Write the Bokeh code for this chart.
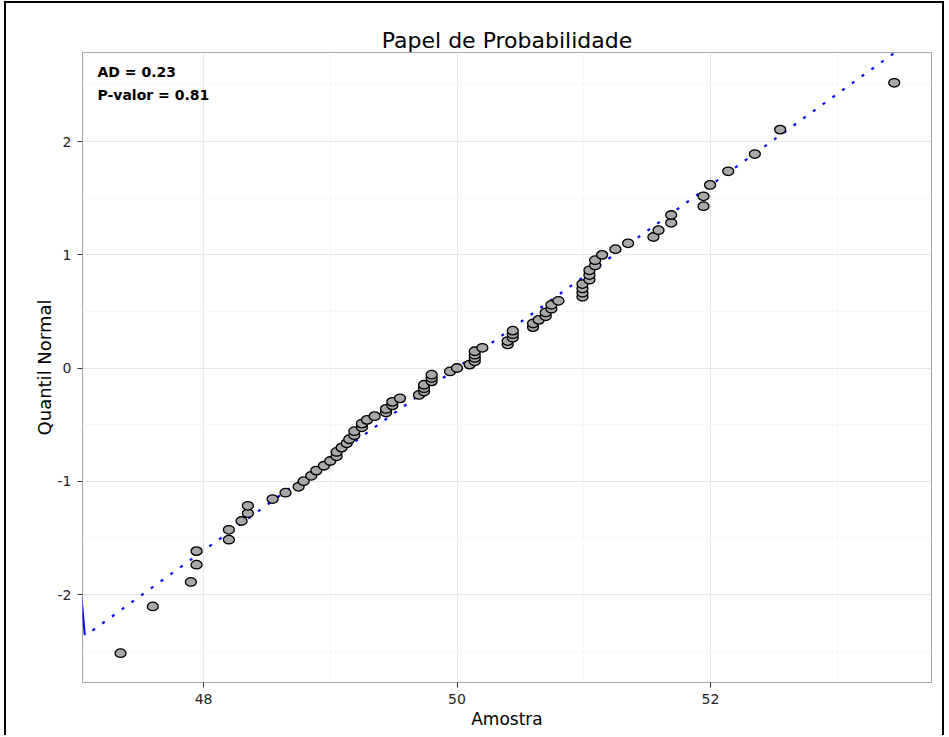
from bokeh.plotting import figure
from bokeh.models import FixedTicker, Label, Range1d
from bokeh.embed import file_html
from bokeh.resources import INLINE

# Sample values (Amostra), sorted
amostra = [
    47.345, 47.60, 47.90, 47.945, 47.945, 48.20, 48.20, 48.30, 48.35, 48.35,
    48.545, 48.647, 48.75, 48.79, 48.85, 48.89, 48.95, 49.00, 49.05, 49.05,
    49.09, 49.13, 49.15, 49.19, 49.19, 49.25, 49.25, 49.29, 49.35, 49.44,
    49.44, 49.49, 49.49, 49.55, 49.70, 49.74, 49.74, 49.74, 49.80, 49.80,
    49.80, 49.945, 50.00, 50.10, 50.14, 50.14, 50.14, 50.14, 50.20, 50.40,
    50.40, 50.44, 50.44, 50.44, 50.60, 50.60, 50.645, 50.70, 50.70, 50.745,
    50.745, 50.80, 50.99, 50.99, 50.99, 50.99, 51.045, 51.045, 51.045, 51.09,
    51.09, 51.145, 51.25, 51.35, 51.55, 51.59, 51.69, 51.69, 51.945, 51.945,
    51.997, 52.14, 52.35, 52.55, 53.45,
]
# Normal quantiles (Quantil Normal)
quantil = [
    -2.518, -2.105, -1.889, -1.737, -1.617, -1.516, -1.429, -1.351, -1.282, -1.217,
    -1.157, -1.101, -1.049, -0.999, -0.952, -0.906, -0.863, -0.821, -0.780, -0.741,
    -0.703, -0.665, -0.629, -0.593, -0.558, -0.524, -0.491, -0.458, -0.425, -0.393,
    -0.361, -0.330, -0.299, -0.268, -0.238, -0.208, -0.178, -0.148, -0.118, -0.089,
    -0.059, -0.030, 0.000, 0.030, 0.059, 0.089, 0.118, 0.148, 0.178, 0.208,
    0.238, 0.268, 0.299, 0.330, 0.361, 0.393, 0.425, 0.458, 0.491, 0.524,
    0.558, 0.593, 0.629, 0.665, 0.703, 0.741, 0.780, 0.821, 0.863, 0.906,
    0.952, 0.999, 1.049, 1.101, 1.157, 1.217, 1.282, 1.351, 1.429, 1.516,
    1.617, 1.737, 1.889, 2.105, 2.518,
]
# Reference (normal) line endpoints
line_x = [47.124, 53.46]
line_y = [-2.318, 2.79]
# Short solid blue segment at the left edge
seg_x = [47.037, 47.063]
seg_y = [-2.026, -2.36]

x_ticks = [48, 50, 52]
x_minor = [47, 49, 51, 53]
y_ticks = [-2, -1, 0, 1, 2]
y_tick_labels = ["-2", "-1", "0", "1", "2"]
y_minor = [-2.5, -1.5, -0.5, 0.5, 1.5, 2.5]

title = "Papel de Probabilidade"
x_label = "Amostra"
y_label = "Quantil Normal"
ad_text = "AD = 0.23"
p_text = "P-valor = 0.81"

FONT = "DejaVu Sans"

p = figure(width=940, height=734, output_backend="svg", toolbar_location=None,
           x_range=Range1d(47.045, 53.744), y_range=Range1d(-2.777, 2.786),
           min_border_left=76, min_border_right=15, min_border_top=49,
           min_border_bottom=55, title=title)
p.styles = {"border-left": "2px solid black", "border-top": "2px solid black",
            "border-right": "2px solid black", "margin-left": "4px",
            "margin-top": "1px"}

p.title.text_font = FONT
p.title.text_font_size = "22px"
p.title.text_font_style = "normal"
p.title.align = "center"
p.title.text_color = "black"
p.title.standoff = 0

p.background_fill_color = "white"
p.border_fill_color = "white"
p.outline_line_color = "#A6A6A6"
p.outline_line_width = 1

p.xaxis.ticker = FixedTicker(ticks=x_ticks, minor_ticks=x_minor)
p.yaxis.ticker = FixedTicker(ticks=y_ticks, minor_ticks=y_minor)
p.yaxis.major_label_overrides = dict(zip(y_ticks, y_tick_labels))
for ax in (p.xaxis, p.yaxis):
    ax.axis_line_color = None
    ax.major_tick_line_color = "#333333"
    ax.major_tick_in = 0
    ax.major_tick_out = 5
    ax.minor_tick_line_color = None
    ax.major_label_text_font = FONT
    ax.major_label_text_font_size = "14px"
    ax.major_label_text_color = "#222222"
    ax.axis_label_text_font = FONT
    ax.axis_label_text_font_style = "normal"
    ax.axis_label_text_color = "black"
p.xaxis.axis_label = x_label
p.yaxis.axis_label = y_label
p.xaxis.axis_label_text_font_size = "17px"
p.yaxis.axis_label_text_font_size = "18px"
p.xaxis.major_label_standoff = 6
p.xaxis.axis_label_standoff = 2
p.yaxis.major_label_standoff = 6
p.yaxis.axis_label_standoff = 0

p.xgrid.grid_line_color = "#E6E6E6"
p.ygrid.grid_line_color = "#E6E6E6"
p.xgrid.minor_grid_line_color = "#F7F7F7"
p.ygrid.minor_grid_line_color = "#F7F7F7"

p.line(line_x, line_y, line_color="#0000FF", line_width=2.2, line_dash="3 9")
p.line(seg_x, seg_y, line_color="#0000FF", line_width=2)

p.ellipse(x=amostra, y=quantil, width=11, height=8.5,
          width_units="screen", height_units="screen",
          fill_color="#A8A8A8", line_color="black", line_width=1.3)

p.add_layout(Label(x=47.163, y=2.618, text=ad_text, text_font=FONT,
                   text_font_size="14px", text_font_style="bold",
                   text_color="black", text_baseline="alphabetic"))
p.add_layout(Label(x=47.163, y=2.415, text=p_text, text_font=FONT,
                   text_font_size="14px", text_font_style="bold",
                   text_color="black", text_baseline="alphabetic"))

open("out.html", "w").write(file_html(p, INLINE))
